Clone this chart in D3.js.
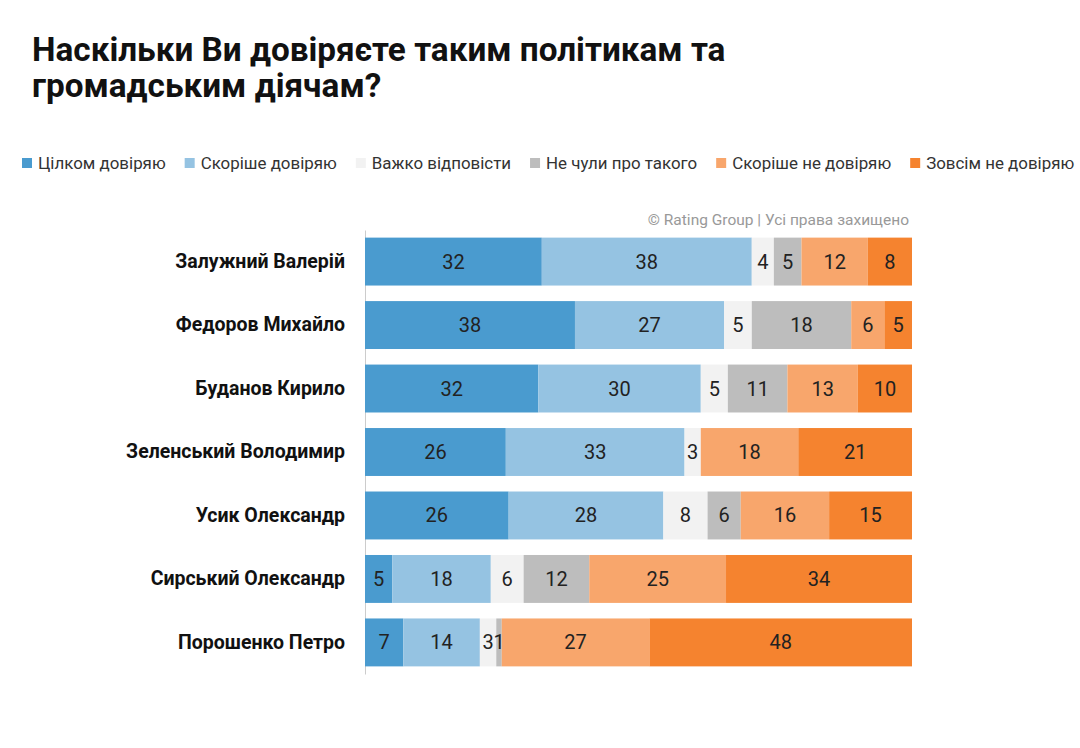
<!DOCTYPE html>
<html><head><meta charset="utf-8">
<script src="https://cdn.jsdelivr.net/npm/d3@7"></script>
<style>body{margin:0;background:#fff;font-family:Roboto,sans-serif}</style>
</head><body><div id="container"></div>
<script>
const width = 1080, height = 748;

const names = ["Залужний Валерій", "Федоров Михайло", "Буданов Кирило", "Зеленський Володимир", "Усик Олександр", "Сирський Олександр", "Порошенко Петро"];
const seriesNames = ["Цілком довіряю", "Скоріше довіряю", "Важко відповісти", "Не чули про такого", "Скоріше не довіряю", "Зовсім не довіряю"];
const colors = ["#4a9bcf", "#95c3e2", "#f2f2f2", "#bdbdbd", "#f8a66c", "#f5832f"];
const full = [32, 38, 32, 26, 26, 5, 7];
const rather = [38, 27, 30, 33, 28, 18, 14];
const hard = [4, 5, 5, 3, 8, 6, 3];
const notHeard = [5, 18, 11, 0, 6, 12, 1];
const ratherNot = [12, 6, 13, 18, 16, 25, 27];
const notAtAll = [8, 5, 10, 21, 15, 34, 48];
const series = [full, rather, hard, notHeard, ratherNot, notAtAll];

const svg = d3.select('#container').append('svg').attr('width', width).attr('height', height);

svg.append('text').attr('x', 32).attr('y', 61).attr('font-size', 33.3).attr('font-weight', 'bold').attr('fill', '#111')
    .selectAll('tspan').data(["Наскільки Ви довіряєте таким політикам та", "громадським діячам?"]).join('tspan')
    .attr('x', 32).attr('dy', (d, i) => i ? 36 : 0).text(d => d);

// legend
let lx = 22;
seriesNames.forEach((s, i) => {
    const g = svg.append('g').attr('transform', `translate(${lx},164)`);
    g.append('rect').attr('y', -6).attr('width', 10).attr('height', 10).attr('fill', colors[i]);
    const t = g.append('text').attr('x', 16).attr('y', 5).attr('font-size', 16.9).attr('fill', '#333').text(s);
    lx += 16 + t.node().getComputedTextLength() + 19;
});

svg.append('text').attr('x', 909).attr('y', 225).attr('text-anchor', 'end').attr('font-size', 15.5).attr('fill', '#999')
    .text('© Rating Group | Усі права захищено');

const x0 = 365, x1 = 912;
const y = d3.scaleBand().domain(names).range([230, 674]).paddingInner(0.245).paddingOuter(0.12);

const yAxis = svg.append('g').attr('transform', `translate(${x0},0)`)
    .call(d3.axisLeft(y).tickSize(0).tickPadding(20));
yAxis.select('.domain').attr('stroke', '#ccc');
yAxis.selectAll('text').attr('font-size', 19.5).attr('font-weight', 'bold').attr('fill', '#111').attr('font-family', 'Roboto');

names.forEach((n, r) => {
    const vals = series.map(s => s[r]);
    const total = d3.sum(vals);
    const x = d3.scaleLinear().domain([0, total]).range([x0, x1]);
    let acc = 0;
    vals.forEach((v, i) => {
        const start = acc; acc += v;
        if (!v) return;
        svg.append('rect').attr('x', x(start)).attr('y', y(n)).attr('width', x(acc) - x(start)).attr('height', y.bandwidth()).attr('fill', colors[i]);
        svg.append('text').attr('x', (x(start) + x(acc)) / 2).attr('y', y(n) + y.bandwidth() / 2 + 7)
            .attr('text-anchor', 'middle').attr('font-size', 20).attr('fill', '#222').text(v);
    });
});
</script></body></html>
